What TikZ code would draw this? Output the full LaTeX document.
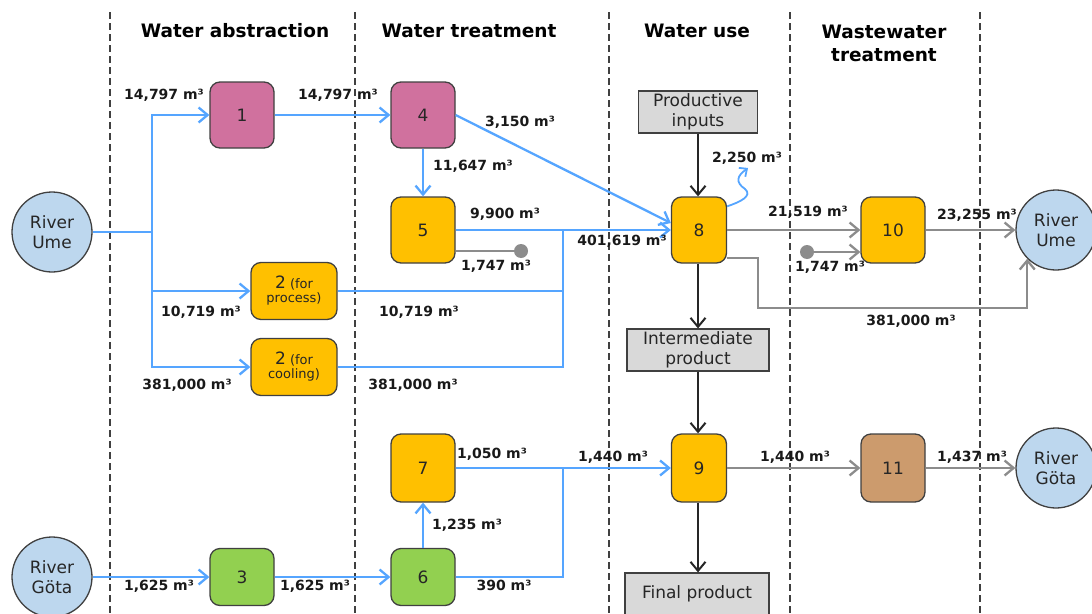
\documentclass[tikz,border=0pt]{standalone}
\usepackage{fontspec}
\setmainfont{DejaVu Sans}
\usetikzlibrary{arrows.meta}
\definecolor{pinkbox}{HTML}{D0719E}
\definecolor{yellowbox}{HTML}{FFC000}
\definecolor{greenbox}{HTML}{92D050}
\definecolor{brownbox}{HTML}{CC9B6D}
\definecolor{riverblue}{HTML}{BDD7EE}
\definecolor{boxgray}{HTML}{D9D9D9}
\definecolor{boxline}{HTML}{404040}
\definecolor{flowblue}{HTML}{55A5FF}
\definecolor{flowgray}{HTML}{8C8C8C}
\begin{document}
\begin{tikzpicture}[x=1pt,y=-1pt]
	\tikzset{procbox/.style={draw=boxline, line width=1.3pt, rounded corners=10pt, minimum width=64pt, minimum height=66pt, inner sep=0pt, align=center, font=\fontsize{17}{20}\selectfont, text=black!85},
		river/.style={circle, draw=boxline, line width=1.3pt, fill=riverblue, minimum size=80pt, inner sep=0pt, align=center, font=\fontsize{17}{20}\selectfont, text=black!85},
		goodsbox/.style={draw=boxline, line width=1.2pt, fill=boxgray, minimum width=119pt, minimum height=42pt, inner sep=0pt, align=center, font=\fontsize{17}{20}\selectfont, text=black!85},
		amount/.style={font=\fontsize{14}{14}\selectfont\bfseries, inner sep=0pt, text=black!90},
		heading/.style={font=\fontsize{18.5}{23}\selectfont\bfseries, align=center, inner sep=0pt},
		water/.style={draw=flowblue, line width=2.3pt},
		waste/.style={draw=flowgray, line width=2.3pt},
		goods/.style={draw=black!85, line width=2pt},
		flowtip/.style={-{Straight Barb[length=9pt,width=15pt]}},
		sinkdot/.style={circle, fill=flowgray, minimum size=14pt, inner sep=0pt}}
	\useasboundingbox (0,0) rectangle (1092,613);

	% Stage borders and headings
	\foreach \x in {110,355,609,790,980}
		\draw[boxline, line width=1.3pt, dash pattern=on 7pt off 4pt] (\x,12) -- (\x,613);
	\node[heading] (h1) at (235,31) {Water abstraction};
	\node[heading] (h2) at (469,31) {Water treatment};
	\node[heading] (h3) at (697,31) {Water use};
	\node[heading] (h4) at (884,43) {Wastewater\\treatment};

	% Rivers
	\node[river] (umeIn) at (52,232) {River\\Ume};
	\node[river] (gotaIn) at (52,577) {River\\Göta};
	\node[river] (umeOut) at (1056,230) {River\\Ume};
	\node[river] (gotaOut) at (1056,468) {River\\Göta};

	% Units
	\node[procbox, fill=pinkbox] (b1) at (242,115) {1};
	\node[procbox, fill=pinkbox] (b4) at (423,115) {4};
	\node[procbox, fill=yellowbox] (b5) at (423,230) {5};
	\node[procbox, fill=yellowbox, minimum width=86pt, minimum height=57pt, font=\fontsize{13}{14}\selectfont] (b2p) at (294,291) {{\fontsize{17}{14}\selectfont 2} (for\\process)};
	\node[procbox, fill=yellowbox, minimum width=86pt, minimum height=57pt, font=\fontsize{13}{14}\selectfont] (b2c) at (294,367) {{\fontsize{17}{14}\selectfont 2} (for\\cooling)};
	\node[procbox, fill=yellowbox, minimum width=55pt] (b8) at (699,230) {8};
	\node[procbox, fill=yellowbox] (b10) at (893,230) {10};
	\node[procbox, fill=yellowbox, minimum height=68pt] (b7) at (423,468) {7};
	\node[procbox, fill=greenbox, minimum height=57pt] (b6) at (423,577) {6};
	\node[procbox, fill=greenbox, minimum height=57pt] (b3) at (242,577) {3};
	\node[procbox, fill=yellowbox, minimum width=55pt, minimum height=68pt] (b9) at (699,468) {9};
	\node[procbox, fill=brownbox, minimum height=68pt] (b11) at (893,468) {11};
	\node[goodsbox] (pi) at (698,112) {Productive\\inputs};
	\node[goodsbox, minimum width=142pt] (ip) at (698,350) {Intermediate\\product};
	\node[goodsbox, minimum width=144pt] (fp) at (697,594) {Final product};
	\node[sinkdot] (d1) at (521,251) {};
	\node[sinkdot] (d2) at (807,252) {};
	\coordinate (split) at (152,232);
	\coordinate (merge1) at (563,230);
	\coordinate (merge2) at (563,468);
	\coordinate (vapour) at (748,168);

	% Blue edges
	\draw[water] (umeIn) -- (split);
	\draw[water, flowtip] (split) |- (b1);
	\draw[water, flowtip] (split) |- (b2p);
	\draw[water, flowtip] (split) |- (b2c);
	\draw[water, flowtip] (b1) -- (b4);
	\draw[water, flowtip] (b4) -- (b5);
	\draw[water, flowtip] (b4.east) -- ([yshift=7pt]b8.west);
	\draw[water, flowtip] (b5) -- (b8);
	\draw[water] (b2p) -| (merge1);
	\draw[water] (b2c) -| (merge1);
	\draw[water, line width=1.8pt, -{Straight Barb[length=6pt,width=11pt]}] ([yshift=-10pt]b8.north east) .. controls (740,202) and (753,196) .. (745,189) .. controls (735,182) and (737,176) .. (vapour);
	\draw[water, flowtip] (gotaIn) -- (b3);
	\draw[water, flowtip] (b3) -- (b6);
	\draw[water, flowtip] (b6) -- (b7);
	\draw[water, flowtip] (b7) -- (b9);
	\draw[water] (b6) -| (merge2);

	% Grey edges
	\draw[waste] (b5.east |- d1) -- (d1);
	\draw[waste, flowtip] (b8) -- (b10);
	\draw[waste, flowtip] (d2) -- (d2 -| b10.west);
	\draw[waste, flowtip] (b10) -- (umeOut);
	\draw[waste, flowtip] ([yshift=-28pt]b8.east) -- ++(31,0) |- (umeOut.-135 |- 0,308) -- (umeOut.-135);
	\draw[waste, flowtip] (b9) -- (b11);
	\draw[waste, flowtip] (b11) -- (gotaOut);

	% Black edges
	\draw[goods, flowtip] (pi) -- (pi |- b8.north);
	\draw[goods, flowtip] (b8.south -| ip) -- (ip);
	\draw[goods, flowtip] (ip) -- (ip |- b9.north);
	\draw[goods, flowtip] (b9.south -| ip) -- (ip |- fp.north);

	% Amounts
	\node[amount] (a1) at (164,95) {14,797 m³};
	\node[amount] (a2) at (338,95) {14,797 m³};
	\node[amount] (a3) at (520,122) {3,150 m³};
	\node[amount] (a4) at (473,166) {11,647 m³};
	\node[amount] (a5) at (505,214) {9,900 m³};
	\node[amount] (a6) at (496,266) {1,747 m³};
	\node[amount] (a7) at (622,241) {401,619 m³};
	\node[amount] (a8) at (747,158) {2,250 m³};
	\node[amount] (a9) at (808,212) {21,519 m³};
	\node[amount] (a10) at (830,267) {1,747 m³};
	\node[amount] (a11) at (977,215) {23,255 m³};
	\node[amount] (a12) at (911,321) {381,000 m³};
	\node[amount] (a13) at (201,312) {10,719 m³};
	\node[amount] (a14) at (187,385) {381,000 m³};
	\node[amount] (a15) at (419,312) {10,719 m³};
	\node[amount] (a16) at (413,385) {381,000 m³};
	\node[amount] (a17) at (492,454) {1,050 m³};
	\node[amount] (a18) at (613,457) {1,440 m³};
	\node[amount] (a19) at (467,525) {1,235 m³};
	\node[amount] (a20) at (504,585) {390 m³};
	\node[amount] (a21) at (795,457) {1,440 m³};
	\node[amount] (a22) at (972,457) {1,437 m³};
	\node[amount] (a23) at (159,586) {1,625 m³};
	\node[amount] (a24) at (315,586) {1,625 m³};
\end{tikzpicture}
\end{document}
